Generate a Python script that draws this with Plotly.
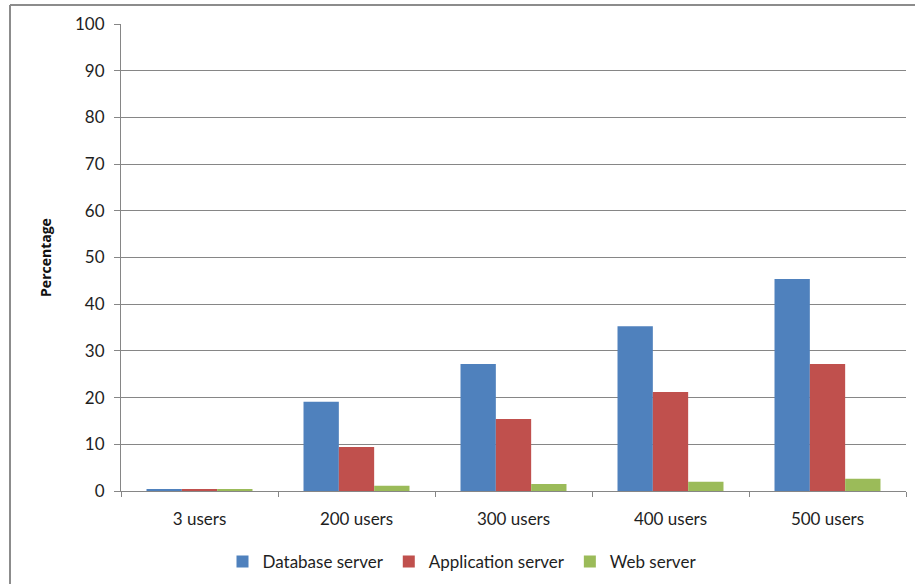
import plotly.graph_objects as go

# Server CPU utilisation by number of concurrent users
categories = ["3 users", "200 users", "300 users", "400 users", "500 users"]
database_server = [0.3, 19.1, 27.2, 35.3, 45.4]
application_server = [0.3, 9.4, 15.4, 21.2, 27.2]
web_server = [0.3, 1.1, 1.5, 2.0, 2.6]

series = [
    ("Database server", database_server, "#4F81BD"),
    ("Application server", application_server, "#C0504D"),
    ("Web server", web_server, "#9BBB59"),
]

FONT = "Lato, 'Open Sans', sans-serif"
TEXT = "#1e1e1e"
GRID = "#868686"

fig = go.Figure()
for name, values, color in series:
    fig.add_trace(go.Bar(
        name=name, x=categories, y=values,
        marker=dict(color=color, line=dict(width=0)),
    ))

fig.update_layout(
    width=915, height=584,
    margin=dict(l=121, r=9, t=24, b=93),
    paper_bgcolor="white", plot_bgcolor="white",
    barmode="group", bargap=0.325, bargroupgap=0,
    font=dict(family=FONT, size=17, color=TEXT),
    showlegend=True,
    legend=dict(
        orientation="h", xref="container", x=462 / 915, xanchor="center",
        yref="container", y=(584 - 562) / 584, yanchor="middle",
        font=dict(family=FONT, size=17, color=TEXT),
        itemwidth=30, tracegroupgap=0,
    ),
    xaxis=dict(
        type="category", tickson="boundaries", ticks="outside", ticklen=5,
        tickcolor=GRID, showline=True, linecolor=GRID, linewidth=1,
        showgrid=False, ticklabelstandoff=13, automargin=False,
        tickfont=dict(family=FONT, size=17, color=TEXT),
    ),
    yaxis=dict(
        range=[0, 100], dtick=10, ticks="outside", ticklen=6,
        tickcolor=GRID, showline=True, linecolor=GRID, linewidth=1,
        showgrid=True, gridcolor=GRID, gridwidth=1, zeroline=False,
        ticklabelstandoff=6, automargin=False,
        tickfont=dict(family=FONT, size=17, color=TEXT),
        title=dict(text="<b>Percentage</b>", standoff=20,
                   font=dict(family="'Open Sans', sans-serif", size=14, color="#111111")),
    ),
    shapes=[
        # outer chart frame (top and left edges)
        dict(type="line", xref="paper", yref="paper",
             x0=(10 - 121) / 785, x1=(915 - 121) / 785,
             y0=(491 - 5) / 467, y1=(491 - 5) / 467,
             line=dict(color="#8c8c8c", width=2)),
        dict(type="line", xref="paper", yref="paper",
             x0=(10 - 121) / 785, x1=(10 - 121) / 785,
             y0=(491 - 5) / 467, y1=(491 - 590) / 467,
             line=dict(color="#8c8c8c", width=2)),
    ],
)

fig.write_html("out.html")
